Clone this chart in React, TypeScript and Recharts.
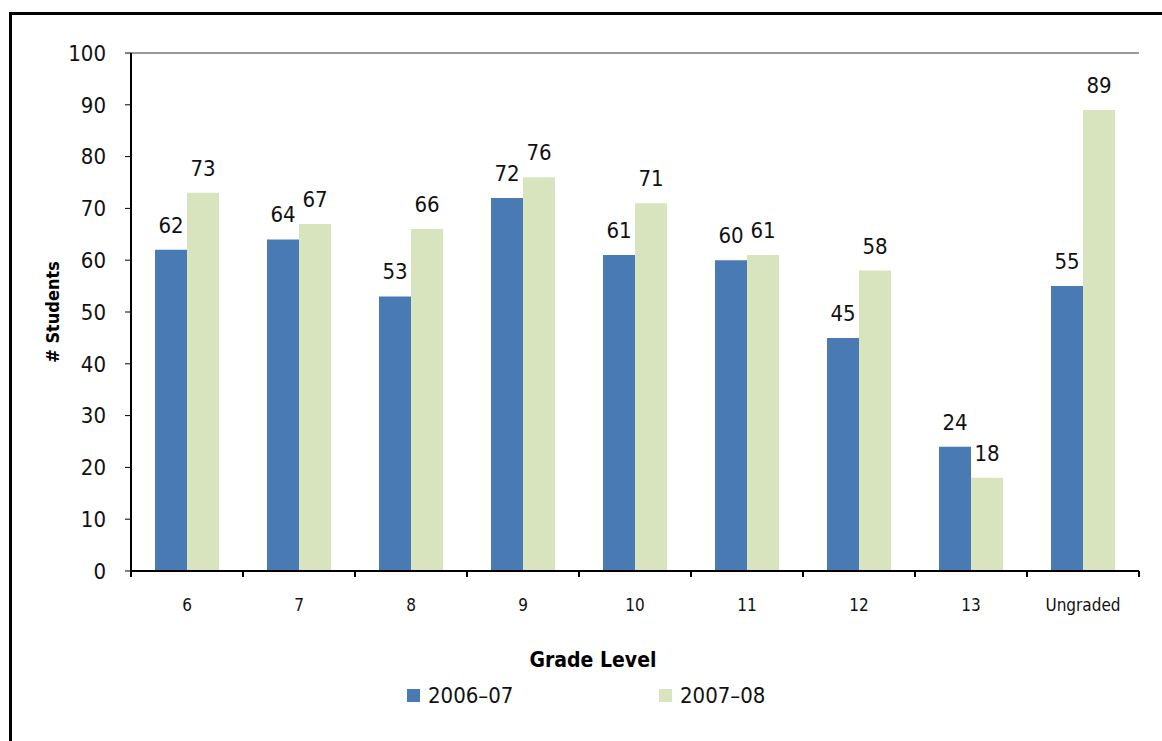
import {
  BarChart,
  Bar,
  XAxis,
  YAxis,
  Legend,
  LabelList,
  ReferenceLine,
  Label,
} from "recharts";

const grades = ["6", "7", "8", "9", "10", "11", "12", "13", "Ungraded"];
const y2006 = [62, 64, 53, 72, 61, 60, 45, 24, 55];
const y2007 = [73, 67, 66, 76, 71, 61, 58, 18, 89];
const yTicks = [0, 10, 20, 30, 40, 50, 60, 70, 80, 90, 100];

const BLUE = "#4a7ab4";
const GREEN = "#d7e4bd";
const FONT = "'Liberation Sans Narrow', 'Arial Narrow', 'DejaVu Sans Condensed', sans-serif";
const NARROW = { fontFamily: FONT, fontStretch: "condensed" } as const;

const data = grades.map((g, i) => ({ grade: g, a: y2006[i], b: y2007[i] }));

function GradeTick(props: any) {
  const { x, y, payload, index } = props;
  const half = payload.offset || 0;
  const last = index === grades.length - 1;
  return (
    <g>
      <line x1={x - half} x2={x - half} y1={y} y2={y + 6} stroke="#000" strokeWidth={2} />
      {last && <line x1={x + half} x2={x + half} y1={y} y2={y + 6} stroke="#000" strokeWidth={2} />}
      <text x={x} y={y + 40} textAnchor="middle" fontSize={17} fill="#111" style={NARROW}>
        {payload.value}
      </text>
    </g>
  );
}

function LegendBox(props: any) {
  const items = props.payload || [];
  return (
    <div style={{ display: "flex", ...NARROW, fontSize: 22, color: "#111" }}>
      {items.map((it: any) => (
        <div key={it.value} style={{ width: 252, display: "flex", alignItems: "center" }}>
          <span style={{ width: 13, height: 13, background: it.color, marginRight: 8 }} />
          <span>{it.value}</span>
        </div>
      ))}
    </div>
  );
}

export default function App() {
  return (
    <div style={{ position: "absolute", left: 0, top: 0, width: 1162, height: 741, overflow: "hidden", background: "#fff" }}>
      <div
        style={{
          position: "absolute",
          left: 9,
          top: 12,
          width: 1200,
          height: 800,
          border: "3px solid #000",
          boxSizing: "border-box",
        }}
      />
      <div style={{ position: "absolute", left: 0, top: 0 }}>
        <BarChart
          width={1162}
          height={741}
          data={data}
          margin={{ top: 53, right: 23, left: 0, bottom: 0 }}
          barCategoryGap={24}
          barGap={0}
        >
          <XAxis
            dataKey="grade"
            height={170}
            tickSize={0}
            tickMargin={0}
            interval={0}
            axisLine={{ stroke: "#000", strokeWidth: 2 }}
            tick={<GradeTick />}
          >
            <Label
              content={({ viewBox }: any) => (
                <text
                  x={viewBox.x + viewBox.width / 2 - 42}
                  y={viewBox.y + 96}
                  textAnchor="middle"
                  fontSize={21}
                  fontWeight="bold"
                  fill="#000"
                  style={NARROW}
                >
                  Grade Level
                </text>
              )}
            />
          </XAxis>
          <YAxis
            width={131}
            domain={[0, 100]}
            ticks={yTicks}
            interval={0}
            tickSize={6}
            tickMargin={19}
            axisLine={{ stroke: "#000", strokeWidth: 2 }}
            tickLine={{ stroke: "#000", strokeWidth: 1 }}
            tick={{ fontSize: 22, fill: "#111", style: NARROW }}
          >
            <Label
              content={({ viewBox }: any) => {
                const cx = 59;
                const cy = viewBox.y + viewBox.height / 2;
                return (
                  <text
                    x={cx}
                    y={cy}
                    transform={`rotate(-90 ${cx} ${cy})`}
                    textAnchor="middle"
                    fontSize={18}
                    fontWeight="bold"
                    fill="#000"
                    style={NARROW}
                  >
                    # Students
                  </text>
                );
              }}
            />
          </YAxis>
          <YAxis
            yAxisId="r"
            orientation="right"
            width={0}
            tick={false}
            tickLine={false}
            axisLine={{ stroke: "#333", strokeWidth: 1 }}
          />
          <ReferenceLine y={100} stroke="#333" strokeWidth={1} />
          <Legend
            layout="horizontal"
            verticalAlign="middle"
            align="center"
            content={<LegendBox />}
            wrapperStyle={{ left: 407, top: 683, width: 520 }}
          />
          <Bar dataKey="a" name="2006–07" fill={BLUE} isAnimationActive={false}>
            <LabelList dataKey="a" position="top" offset={17} fontSize={22} fill="#111" style={NARROW} />
          </Bar>
          <Bar dataKey="b" name="2007–08" fill={GREEN} isAnimationActive={false}>
            <LabelList dataKey="b" position="top" offset={17} fontSize={22} fill="#111" style={NARROW} />
          </Bar>
        </BarChart>
      </div>
    </div>
  );
}
